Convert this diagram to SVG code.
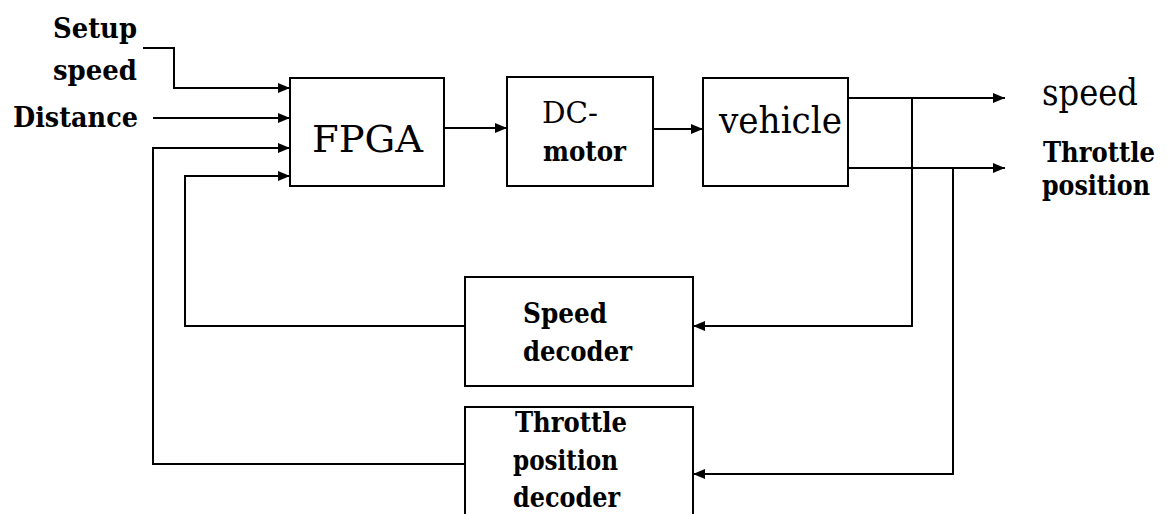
<svg xmlns="http://www.w3.org/2000/svg" width="1167" height="514" viewBox="0 0 1167 514">
<style>
.box{fill:#fff;stroke:#000;stroke-width:2}
.ln{fill:none;stroke:#000;stroke-width:2}
text{font-family:'DejaVu Serif','Liberation Serif',serif;fill:#000}
.b{font-weight:bold}
</style>
<defs>
<marker id="ah" markerUnits="userSpaceOnUse" markerWidth="12" markerHeight="10" refX="12" refY="5" orient="auto">
<path d="M0,0 L12,5 L0,10 Z" fill="#000"/>
</marker>
</defs>
<rect width="1167" height="514" fill="#fff"/>
<g id="labels-in">
<text class="b" x="53" y="38" font-size="28" textLength="84" lengthAdjust="spacingAndGlyphs">Setup</text>
<text class="b" x="53" y="80" font-size="28" textLength="84" lengthAdjust="spacingAndGlyphs">speed</text>
<text class="b" x="13" y="127" font-size="28" textLength="125" lengthAdjust="spacingAndGlyphs">Distance</text>
</g>
<g id="fpga">
<rect class="box" x="290" y="78" width="154" height="108"/>
<text x="312" y="152" font-size="37" textLength="111" lengthAdjust="spacingAndGlyphs">FPGA</text>
</g>
<g id="dcmotor">
<rect class="box" x="507" y="77" width="146" height="109"/>
<text x="542" y="123" font-size="29" textLength="56" lengthAdjust="spacingAndGlyphs">DC-</text>
<text class="b" x="543" y="161" font-size="28" textLength="83" lengthAdjust="spacingAndGlyphs">motor</text>
</g>
<g id="vehicle">
<rect class="box" x="703" y="78" width="145" height="108"/>
<text x="719" y="133" font-size="37" textLength="123" lengthAdjust="spacingAndGlyphs">vehicle</text>
</g>
<g id="speed-decoder">
<rect class="box" x="465" y="277" width="228" height="109"/>
<text class="b" x="523" y="323" font-size="28" textLength="84" lengthAdjust="spacingAndGlyphs">Speed</text>
<text class="b" x="523" y="361" font-size="28" textLength="109" lengthAdjust="spacingAndGlyphs">decoder</text>
</g>
<g id="throttle-decoder">
<rect class="box" x="465" y="407" width="228" height="115"/>
<text class="b" x="515" y="432" font-size="28" textLength="112" lengthAdjust="spacingAndGlyphs">Throttle</text>
<text class="b" x="513" y="470" font-size="28" textLength="105" lengthAdjust="spacingAndGlyphs">position</text>
<text class="b" x="513" y="507" font-size="28" textLength="107" lengthAdjust="spacingAndGlyphs">decoder</text>
</g>
<g id="labels-out">
<text x="1042" y="105" font-size="37" textLength="96" lengthAdjust="spacingAndGlyphs">speed</text>
<text class="b" x="1043" y="162" font-size="27" textLength="112" lengthAdjust="spacingAndGlyphs">Throttle</text>
<text class="b" x="1042" y="195" font-size="27" textLength="108" lengthAdjust="spacingAndGlyphs">position</text>
</g>
<g id="connectors">
<path class="ln" d="M143,48 H174 V88 H290" marker-end="url(#ah)"/>
<path class="ln" d="M153,118 H290" marker-end="url(#ah)"/>
<path class="ln" d="M465,464 H153 V148 H290" marker-end="url(#ah)"/>
<path class="ln" d="M465,326 H185 V176 H290" marker-end="url(#ah)"/>
<path class="ln" d="M444,128 H507" marker-end="url(#ah)"/>
<path class="ln" d="M653,129 H703" marker-end="url(#ah)"/>
<path class="ln" d="M848,98 H1005" marker-end="url(#ah)"/>
<path class="ln" d="M848,168 H1005" marker-end="url(#ah)"/>
<path class="ln" d="M912,98 V326 H693" marker-end="url(#ah)"/>
<path class="ln" d="M953,168 V474 H693" marker-end="url(#ah)"/>
</g>
</svg>
